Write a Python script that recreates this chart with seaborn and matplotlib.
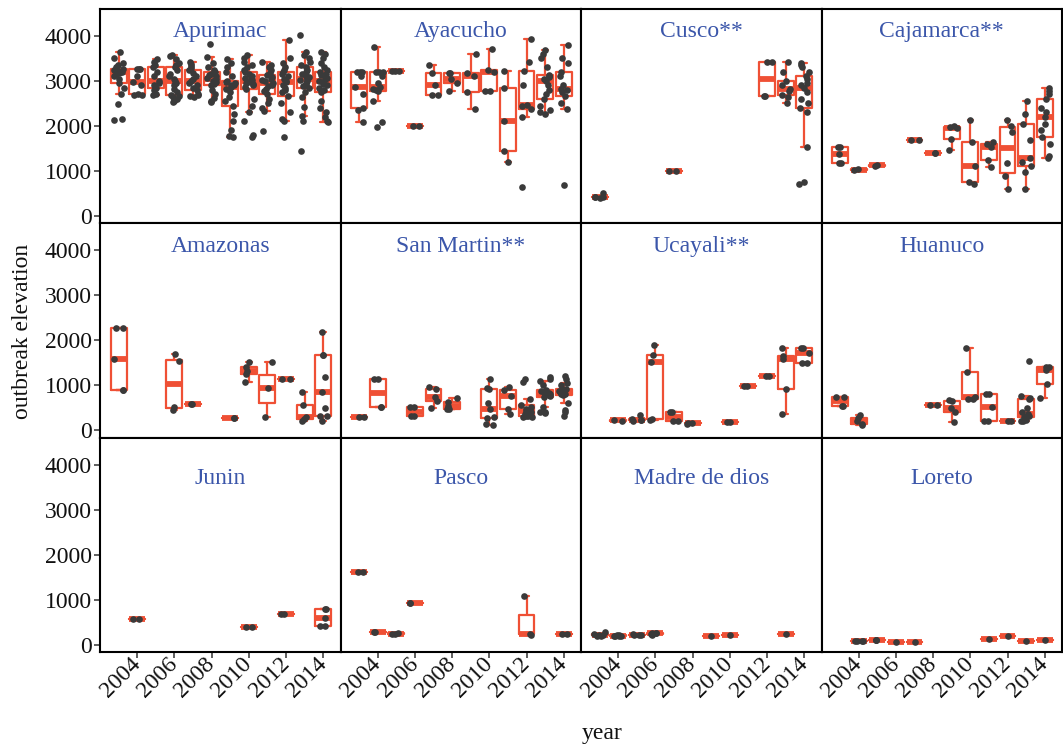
import numpy as np
import pandas as pd
import matplotlib
matplotlib.use("Agg")
import matplotlib.pyplot as plt
import matplotlib.transforms as mtransforms
import seaborn as sns

sns.set_style("white")
plt.rcParams['font.family'] = ['Liberation Serif', 'DejaVu Serif']

REGIONS = ["Apurimac", "Ayacucho", "Cusco**", "Cajamarca**",
           "Amazonas", "San Martin**", "Ucayali**", "Huanuco",
           "Junin", "Pasco", "Madre de dios", "Loreto"]

APURIMAC = {
    2003: [2140, 2150, 2490, 2714, 2850, 2960, 3050, 3100, 3150, 3180, 3200, 3210, 3230, 3250, 3260, 3270, 3300, 3350, 3400, 3500, 3640],
    2004: [2690, 2690, 2700, 2900, 2975, 3100, 3270, 3270, 3275],
    2005: [2680, 2700, 2800, 2850, 2900, 2950, 3010, 3100, 3200, 3310, 3350, 3420, 3490],
    2006: [2530, 2560, 2600, 2640, 2660, 2680, 2750, 2820, 2900, 2960, 3010, 3050, 3100, 3150, 3250, 3310, 3350, 3400, 3480, 3550, 3570],
    2007: [2640, 2660, 2680, 2720, 2790, 2850, 2900, 2950, 3000, 3050, 3100, 3180, 3234, 3280, 3330, 3380, 3420],
    2008: [2528, 2560, 2620, 2700, 2800, 2900, 2940, 2970, 3000, 3020, 3048, 3070, 3100, 3130, 3160, 3197, 3250, 3320, 3400, 3532, 3829],
    2009: [1750, 1780, 1900, 2100, 2270, 2454, 2550, 2650, 2750, 2830, 2877, 2900, 2920, 2950, 2980, 3011, 3100, 3200, 3300, 3400, 3494],
    2010: [1750, 1790, 2120, 2305, 2450, 2600, 2825, 2860, 2900, 2930, 2950, 2980, 3000, 3030, 3060, 3090, 3120, 3160, 3197, 3250, 3300, 3350, 3420, 3500, 3569],
    2011: [1896, 2342, 2400, 2500, 2600, 2714, 2780, 2830, 2880, 2920, 2960, 2990, 3020, 3050, 3090, 3123, 3180, 3250, 3300, 3350, 3420],
    2012: [1747, 2119, 2150, 2300, 2500, 2677, 2750, 2800, 2850, 2900, 2974, 3000, 3050, 3100, 3150, 3197, 3250, 3300, 3400, 3500, 3900],
    2013: [1450, 2119, 2230, 2416, 2640, 2750, 2848, 2880, 2920, 2960, 2990, 3020, 3048, 3080, 3110, 3150, 3200, 3250, 3309, 3350, 3420, 3500, 3580, 3643, 4015],
    2014: [2090, 2110, 2200, 2300, 2400, 2550, 2751, 2800, 2850, 2900, 2940, 2980, 3011, 3040, 3070, 3100, 3130, 3160, 3197, 3250, 3300, 3400, 3500, 3600, 3643],
}
AYACUCHO = {
    2003: [2082, 2350, 2401, 2700, 2877, 3100, 3197, 3197, 3197],
    2004: [1985, 2082, 2565, 2788, 2800, 2830, 2862, 2950, 3100, 3197, 3200, 3210, 3755],
    2005: [3215, 3219, 3225],
    2006: [2000, 2010],
    2007: [2691, 2691, 2900, 3175, 3346],
    2008: [2788, 2952, 3050, 3175, 3180],
    2009: [2380, 2751, 3100, 3175, 3606],
    2010: [2788, 2788, 3200, 3234, 3717],
    2011: [1190, 1435, 2104, 2848, 3219],
    2012: [647, 2193, 2379, 2450, 2476, 2900, 3219, 3420, 3940],
    2013: [2268, 2300, 2350, 2450, 2602, 2700, 2800, 2900, 3011, 3050, 3080, 3100, 3123, 3300, 3500, 3600, 3680],
    2014: [684, 2379, 2500, 2677, 2750, 2800, 2825, 2900, 3100, 3197, 3400, 3500, 3790],
}
CUSCO = {
    2003: [410, 420, 425, 430, 520],
    2007: [990, 1000],
    2012: [2662, 2662, 3420, 3420],
    2013: [2513, 2650, 2699, 2780, 2825, 2900, 3011, 3200, 3420],
    2014: [720, 750, 1524, 2300, 2401, 2500, 2600, 2750, 2848, 2900, 2950, 3050, 3100, 3200, 3300, 3350, 3398],
}
CAJAMARCA = {
    2003: [1175, 1175, 1375, 1539, 1539],
    2004: [1030, 1035],
    2005: [1120, 1125],
    2007: [1685, 1690],
    2008: [1390, 1392],
    2009: [1472, 1710, 1955, 1985, 1990],
    2010: [720, 750, 1100, 1636, 2134],
    2011: [1078, 1249, 1524, 1599, 1636],
    2012: [595, 892, 1175, 1859, 2007, 2141],
    2013: [595, 967, 1100, 1200, 1286, 1688, 2045, 2268, 2565],
    2014: [1286, 1330, 1600, 1747, 1900, 2050, 2208, 2300, 2400, 2602, 2700, 2780, 2840],
}
AMAZONAS = {
    2003: [898, 898, 1588, 2271, 2271],
    2006: [453, 527, 1536, 1700],
    2007: [585, 590],
    2009: [275, 277],
    2010: [1083, 1254, 1328, 1403, 1521],
    2011: [290, 935, 1521],
    2012: [1140, 1145],
    2013: [215, 250, 290, 564, 846],
    2014: [215, 326, 326, 490, 846, 1195, 1677, 1680, 2182],
}
SAN_MARTIN = {
    2003: [289, 290],
    2004: [512, 512, 1143, 1143],
    2006: [312, 312, 512, 512],
    2007: [490, 660, 735, 920, 957],
    2008: [475, 475, 549, 623, 712],
    2010: [119, 150, 267, 300, 475, 600, 920, 950, 1143],
    2011: [364, 475, 772, 905, 957],
    2012: [290, 300, 315, 326, 360, 400, 438, 470, 520, 564, 698, 1069, 1143],
    2013: [380, 400, 420, 520, 735, 760, 780, 800, 809, 830, 850, 870, 898, 1000, 1100, 1150, 1180],
    2014: [330, 400, 450, 600, 787, 800, 820, 840, 861, 870, 880, 900, 920, 1000, 1050, 1150, 1217],
}
UCAYALI = {
    2004: [220, 225],
    2005: [200, 230, 237, 245, 340],
    2006: [240, 252, 1514, 1677, 1900],
    2007: [200, 200, 416, 416],
    2008: [150, 163, 170],
    2010: [178, 180],
    2011: [994, 996],
    2012: [1202, 1204],
    2013: [364, 920, 1588, 1662, 1833],
    2014: [1500, 1500, 1714, 1826, 1826],
}
HUANUCO = {
    2003: [549, 549, 750, 750],
    2004: [119, 150, 200, 267, 341],
    2008: [571, 573],
    2009: [178, 400, 490, 660, 683],
    2010: [698, 698, 735, 1291, 1826],
    2011: [200, 200, 512, 809, 809],
    2012: [215, 217],
    2013: [200, 210, 230, 289, 300, 330, 364, 400, 500, 698, 720, 760, 1551],
    2014: [720, 1032, 1350, 1403, 1403],
}
JUNIN = {
    2004: [578, 580],
    2010: [400, 402],
    2012: [689, 690],
    2014: [415, 415, 593, 800, 800],
}
PASCO = {
    2003: [1622, 1624],
    2004: [281, 283],
    2005: [240, 252, 260],
    2006: [926, 928],
    2012: [230, 252, 1096],
    2014: [252, 254],
}
MADRE_DE_DIOS = {
    2003: [200, 210, 220, 230, 240, 280],
    2004: [200, 205, 207, 210, 215, 220],
    2005: [215, 225, 230, 240],
    2006: [230, 255, 260, 265, 270],
    2009: [207],
    2010: [215],
    2013: [244],
}
LORETO = {
    2004: [78, 80, 82, 84],
    2005: [105, 111, 115],
    2006: [74],
    2007: [59],
    2011: [126],
    2012: [207],
    2013: [81],
    2014: [118],
}
ALL = [APURIMAC, AYACUCHO, CUSCO, CAJAMARCA, AMAZONAS, SAN_MARTIN,
       UCAYALI, HUANUCO, JUNIN, PASCO, MADRE_DE_DIOS, LORETO]

X_TICKS = [2004, 2006, 2008, 2010, 2012, 2014]
Y_TICKS = [0, 1000, 2000, 3000, 4000]

rows = []
for name, d in zip(REGIONS, ALL):
    for yr, vals in d.items():
        for v in vals:
            rows.append((name, yr, v))
df = pd.DataFrame(rows, columns=["region", "year", "elevation"])

BOX_COLOR = "#EF5035"
PT_COLOR = "#3a3a3a"
TITLE_COLOR = "#3B56AA"
FS = 17
BOX_LW = 1.6

W, H = 1063, 746
fig, axes = plt.subplots(3, 4, figsize=(W / 100, H / 100), dpi=100)
fig.subplots_adjust(left=100 / W, right=1062 / W, top=1 - 9 / H,
                    bottom=1 - 652.5 / H, wspace=0, hspace=0)

np.random.seed(7)
for i, (ax, name) in enumerate(zip(axes.flat, REGIONS)):
    r, c = divmod(i, 4)
    sub = df[df.region == name]
    yrs = np.sort(sub.year.unique())
    step = np.diff(yrs).min() if len(yrs) > 1 else 1
    sns.boxplot(data=sub, x="year", y="elevation", native_scale=True,
                width=0.86 / step, fill=False, color=BOX_COLOR,
                linewidth=BOX_LW, showfliers=False,
                medianprops=dict(linewidth=4.2), ax=ax)
    # shorten whisker caps (ggplot errorbar style)
    for ln in ax.lines:
        xd, yd = np.asarray(ln.get_xdata(), float), np.asarray(ln.get_ydata(), float)
        if len(xd) == 2 and yd[0] == yd[1] and abs(ln.get_linewidth() - BOX_LW) < 1e-6:
            mid = xd.mean()
            ln.set_xdata([mid - 0.15, mid + 0.15])
    sns.stripplot(data=sub, x="year", y="elevation", native_scale=True,
                  jitter=0.28 / step, size=4.8, color=PT_COLOR,
                  linewidth=0, ax=ax, zorder=4)
    ax.set_xlim(2002.0, 2014.93)
    ax.set_ylim(-167, 4600)
    ax.set_xlabel("")
    ax.set_ylabel("")
    ax.set_xticks(X_TICKS)
    ax.set_yticks(Y_TICKS)
    for sp in ax.spines.values():
        sp.set_visible(True)
        sp.set_color("black")
        sp.set_linewidth(1.5)
    ax.tick_params(axis="both", direction="out", length=4, width=1.1,
                   color="#333333", labelsize=FS, labelcolor="#111111", pad=2,
                   left=(c == 0), labelleft=(c == 0),
                   bottom=(r == 2), labelbottom=(r == 2))
    if r == 2:
        for lab in ax.get_xticklabels():
            lab.set_rotation(45)
            lab.set_ha("right")
            lab.set_va("center")
            lab.set_rotation_mode("anchor")
    ty = 3710 if r == 2 else 4090
    trans = mtransforms.blended_transform_factory(ax.transAxes, ax.transData)
    ax.text(0.5, ty, name, transform=trans, ha="center", va="center",
            fontsize=FS, color=TITLE_COLOR)

fig.text(22 / W, 1 - 331 / H, "outbreak elevation", rotation=90,
         ha="center", va="center", fontsize=FS, color="#111111")
fig.text(602 / W, 1 - 733 / H, "year", ha="center", va="center",
         fontsize=FS, color="#111111")

fig.savefig("out.png", dpi=100, facecolor="white")
